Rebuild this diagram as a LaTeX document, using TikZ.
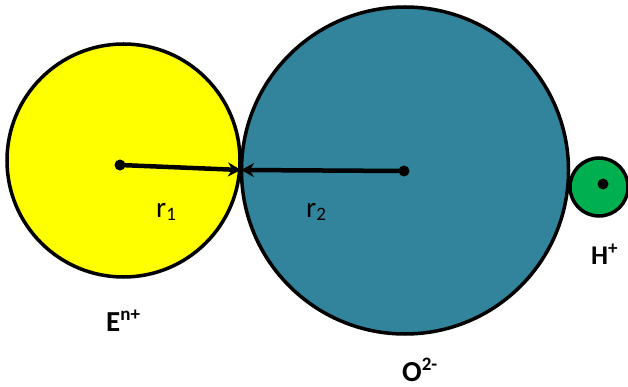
\documentclass[tikz,border=0pt]{standalone}
\usepackage{fontspec}
\setmainfont{Carlito}
\usetikzlibrary{arrows.meta}
\definecolor{ionyellow}{HTML}{FFFF00}
\definecolor{ionteal}{HTML}{31849B}
\definecolor{iongreen}{HTML}{00B050}
\newcommand{\supx}[2]{\raisebox{#1}{\fontsize{19}{19}\selectfont #2}}
\newcommand{\subx}[1]{\raisebox{-3pt}{\fontsize{19}{19}\selectfont #1}}
\begin{document}
\begin{tikzpicture}[x=1pt,y=-1pt,
  ion/.style={circle,draw=black,line width=3.5pt,inner sep=0pt,outer sep=0pt},
  centredot/.style={circle,fill=black,inner sep=0pt,minimum size=11pt},
  radius arrow/.style={line width=4.5pt,-{Stealth[length=13pt,width=14pt]}},
  rlabel/.style={font=\fontsize{29}{29}\selectfont,anchor=base west,inner sep=0pt},
  ionlabel/.style={font=\fontsize{29}{29}\selectfont\bfseries,anchor=base west,inner sep=0pt}]
\useasboundingbox (0,0) rectangle (628,387);
\node[ion,fill=ionyellow,minimum size=233pt] (E) at (123.5,160.5) {};
\node[ion,fill=ionteal,minimum size=327pt] (O) at (405,170.5) {};
\node[ion,fill=iongreen,minimum size=58pt] (H) at (599,187) {};
\node[centredot] (cE) at (120,165) {};
\node[centredot] (cO) at (404,171) {};
\node[centredot] (cH) at (603,184) {};
\coordinate (t) at (241,170);
\draw[radius arrow] (cE.center) -- (t);
\draw[radius arrow] (cO.center) -- (t);
\node[rlabel] (r1) at (156,218) {r\subx{1}};
\node[rlabel] (r2) at (306,218) {r\subx{2}};
\node[ionlabel] (lE) at (106,331) {E\supx{11pt}{n+}};
\node[ionlabel] (lO) at (402,381) {O\supx{11pt}{2-}};
\node[ionlabel,font=\fontsize{27}{27}\selectfont\bfseries] (lH) at (591,264) {H\supx{10pt}{+}};
\end{tikzpicture}
\end{document}
